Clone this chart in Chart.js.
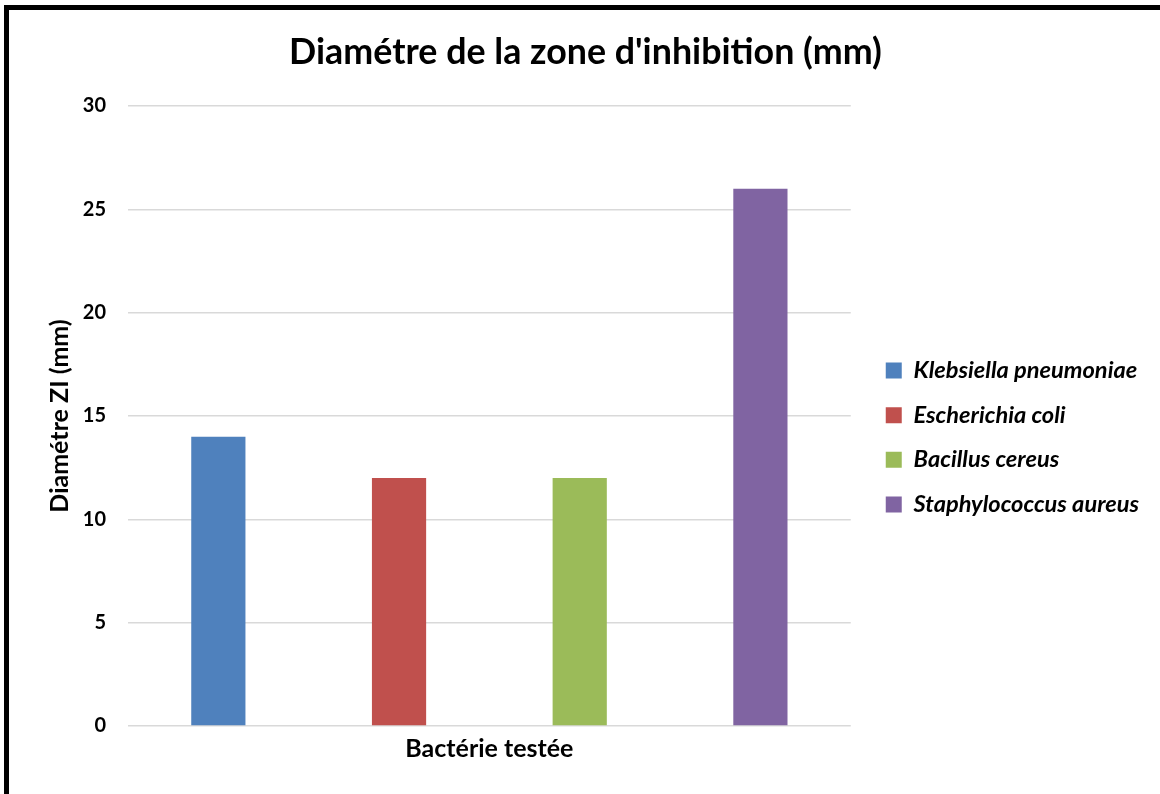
<!DOCTYPE html>
<html>
<head>
<meta charset="utf-8">
<script src="https://cdn.jsdelivr.net/npm/chart.js@4.4.1/dist/chart.umd.min.js"></script>
<style>
  html, body { margin: 0; padding: 0; background: #fff; }
  #wrap { position: relative; width: 1160px; height: 794px; overflow: hidden; }
  #frame {
    position: absolute; left: 4px; top: 5px; width: 1200px; height: 784px;
    border-left: 5px solid #000; border-top: 5px solid #000; border-bottom: 4px solid #000;
    box-sizing: content-box; pointer-events: none;
  }
  canvas { position: absolute; left: 0; top: 0; }
</style>
</head>
<body>
<div id="wrap">
  <canvas id="c" width="1160" height="794"></canvas>
  <div id="frame"></div>
</div>
<script>
// Inhibition zone diameter per tested bacterium
const categories = ["Bactérie testée"];
const bacteria = ["Klebsiella pneumoniae", "Escherichia coli", "Bacillus cereus", "Staphylococcus aureus"];
const diameters = [14, 12, 12, 26];
const colors = ["#4F81BD", "#C0504D", "#9BBB59", "#8064A2"];
const yTicks = [0, 5, 10, 15, 20, 25, 30];

const FONT = "Lato, 'Open Sans', sans-serif";
const LEGEND_GAP = 12;     // extra space between the plot area and the legend
const LEGEND_SHIFT_X = 14; // legend drawn this far right inside its box
const LEGEND_SHIFT_Y = 40; // legend sits a little below the plot's middle

const datasets = bacteria.map((name, i) => ({
  label: name,
  data: [diameters[i]],
  backgroundColor: colors[i],
  borderWidth: 0,
  categoryPercentage: 1.0,
  barPercentage: 0.3
}));

// widens the legend box on its left side and offsets its drawing
const legendGap = {
  id: 'legendGap',
  beforeLayout(chart) {
    const lg = chart.legend;
    if (!lg || lg._gapWrapped) return;
    const fit = lg.fit.bind(lg);
    const draw = lg.draw.bind(lg);
    lg.fit = function () { fit(); this.width += LEGEND_GAP; };
    lg.draw = function () {
      const ctx = this.ctx;
      ctx.save();
      ctx.translate(LEGEND_SHIFT_X, LEGEND_SHIFT_Y);
      draw();
      ctx.restore();
    };
    lg._gapWrapped = true;
  }
};

new Chart(document.getElementById('c'), {
  type: 'bar',
  data: { labels: categories, datasets },
  plugins: [legendGap],
  options: {
    responsive: false,
    animation: false,
    layout: { padding: { top: 31, left: 31, right: 20, bottom: 30 } },
    plugins: {
      title: {
        display: true,
        text: "Diamétre de la zone d'inhibition (mm)",
        color: '#000',
        font: { family: FONT, size: 35.8, weight: 'bold' },
        padding: { top: 0, bottom: 32 }
      },
      legend: {
        position: 'right',
        align: 'center',
        labels: {
          color: '#000',
          font: { family: FONT, size: 23.6, weight: 'bold', style: 'italic' },
          boxWidth: 16,
          boxHeight: 16,
          padding: 21
        }
      },
      tooltip: { enabled: false }
    },
    scales: {
      x: {
        grid: { display: false, drawTicks: false },
        border: { display: false },
        ticks: { display: false },
        title: {
          display: true,
          text: "Bactérie testée",
          color: '#000',
          font: { family: FONT, size: 25, weight: 'bold' },
          padding: { top: 8, bottom: 0 }
        }
      },
      y: {
        min: 0,
        max: 30,
        afterBuildTicks: (axis) => { axis.ticks = yTicks.map(v => ({ value: v })); },
        afterFit: (scale) => { scale.width = 97; },
        grid: { color: '#D9D9D9', lineWidth: 1.5, drawTicks: false },
        border: { display: false },
        ticks: {
          color: '#000',
          padding: 22,
          font: { family: FONT, size: 20, weight: 'bold' }
        },
        title: {
          display: true,
          text: "Diamétre ZI (mm)",
          color: '#000',
          font: { family: FONT, size: 25, weight: 'bold' },
          padding: { top: 14, bottom: 6 }
        }
      }
    }
  }
});
</script>
</body>
</html>
